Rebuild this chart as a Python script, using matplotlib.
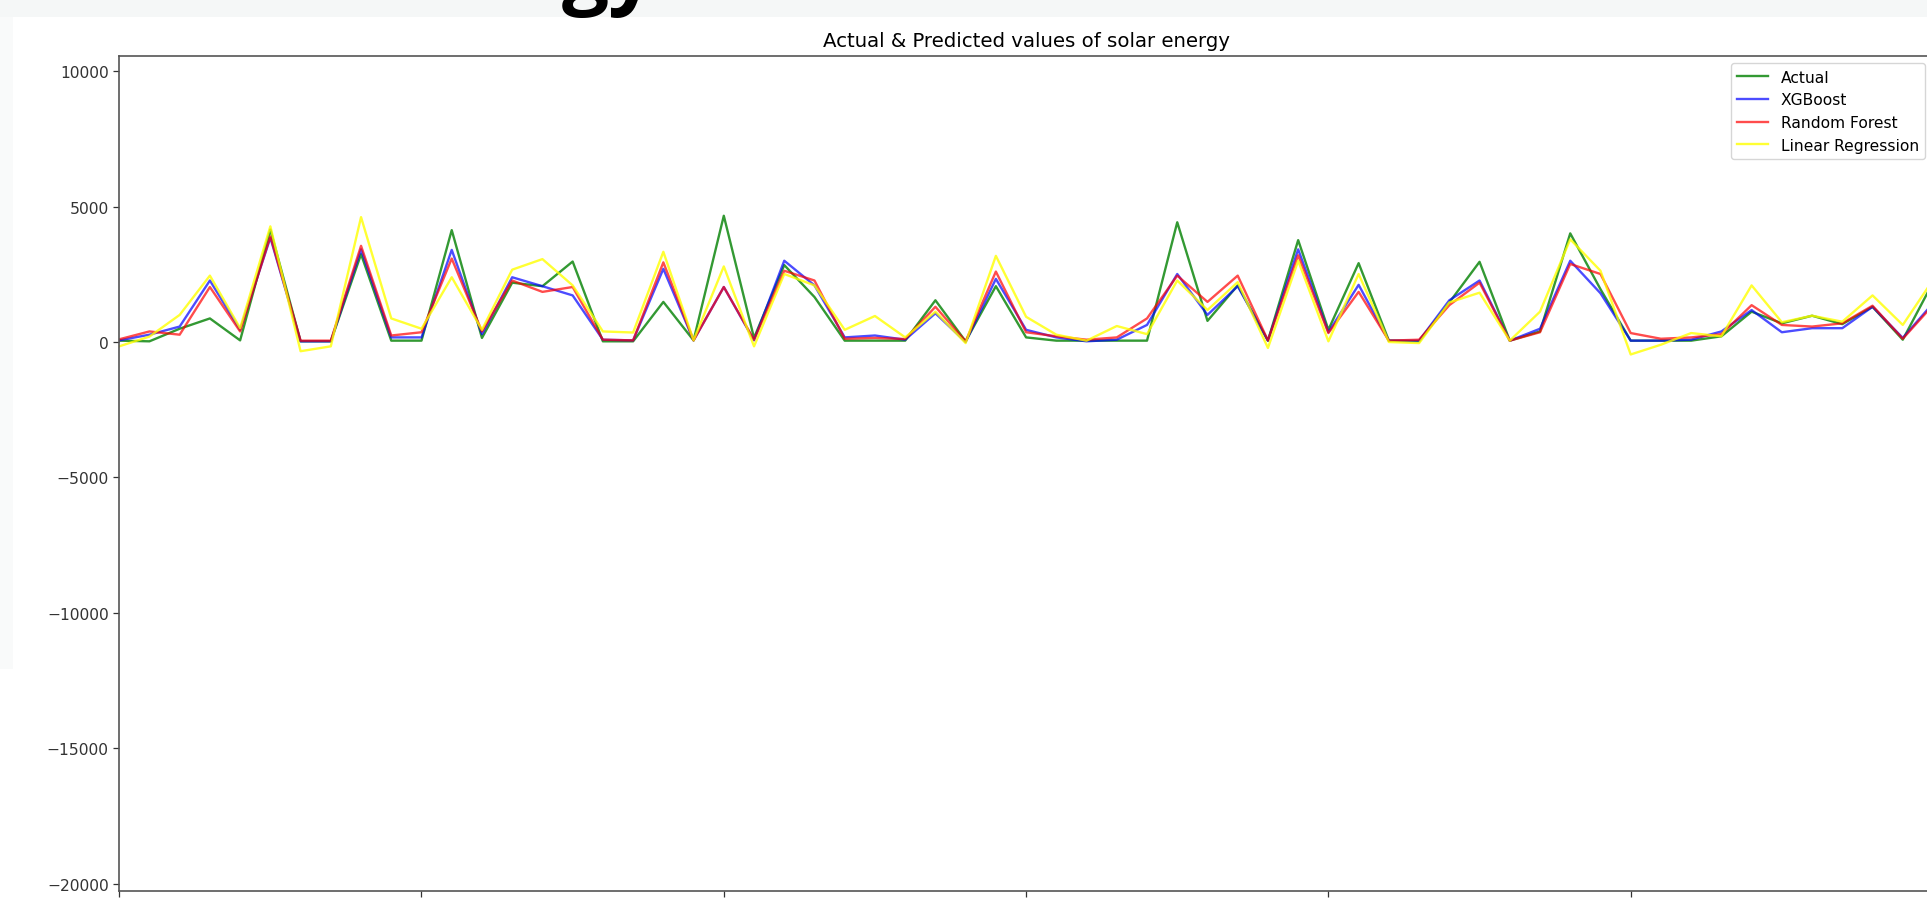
import matplotlib
matplotlib.use("Agg")
import matplotlib.pyplot as plt
from matplotlib.patches import Rectangle

# values, one per sample index 0..60
actual = [50, 25, 490, 870, 60, 4150, 25, 25, 3240, 50, 50, 4130, 150, 2190, 2060,
          2970, 25, 25, 1480, 60, 4660, 150, 2840, 1660, 50, 50, 50, 1540, 25, 2060,
          170, 50, 50, 50, 50, 4420, 780, 2090, 50, 3760, 450, 2910, 50, 25, 1460,
          2960, 50, 390, 4010, 1950, 50, 50, 50, 210, 1120, 690, 970, 660, 1300, 85, 2200]
xgboost = [60, 270, 570, 2270, 450, 3850, 25, 25, 3420, 170, 170, 3400, 290, 2390, 2060,
           1720, 85, 60, 2700, 60, 2030, 60, 3000, 2090, 170, 240, 85, 1060, 0, 2330,
           450, 170, 25, 85, 630, 2510, 1000, 2060, 50, 3420, 360, 2110, 50, 50, 1540,
           2270, 50, 490, 3000, 1800, 50, 50, 85, 390, 1180, 360, 510, 510, 1300, 150, 1430]
random_forest = [100, 390, 270, 2030, 390, 3900, 50, 50, 3550, 240, 360, 3080, 390, 2270, 1850,
                 2030, 85, 60, 2940, 60, 2030, 85, 2630, 2270, 120, 150, 110, 1300, 25, 2600,
                 360, 210, 85, 170, 870, 2450, 1480, 2450, 60, 3200, 330, 1850, 50, 85, 1360,
                 2190, 50, 360, 2880, 2510, 330, 120, 170, 290, 1360, 630, 570, 690, 1340, 120, 1360]
linear_reg = [-160, 200, 1000, 2450, 510, 4270, -340, -160, 4610, 870, 490, 2390, 450, 2670, 3060,
              2090, 390, 350, 3330, 60, 2790, -160, 2510, 2090, 450, 960, 170, 1120, -40, 3180,
              930, 270, 50, 590, 290, 2270, 1180, 2210, -220, 3000, 25, 2510, 0, -40, 1460,
              1820, 50, 1120, 3790, 2630, -460, -100, 330, 210, 2090, 730, 970, 750, 1720, 630, 2290]

y_ticks = [-20000, -15000, -10000, -5000, 0, 5000, 10000]
x_ticks = [0, 10, 20, 30, 40, 50, 60]

W, H = 1927, 904
fig = plt.figure(figsize=(W / 100, H / 100), dpi=100)

# slide background bits around the pasted chart
fig.patches.append(Rectangle((0, 1 - 18 / H), 1, 18 / H, transform=fig.transFigure,
                             facecolor="#f5f7f7", edgecolor="none", zorder=0))
fig.patches.append(Rectangle((0, 1 - 670 / H), 13 / W, 652 / H, transform=fig.transFigure,
                             facecolor="#f9fafa", edgecolor="none", zorder=0))
# descenders of the slide title, cut by the top edge
fig.text(562 / W, 1 + 2 / H, "gy", fontsize=60, family="Open Sans", fontweight="bold",
         color="black", va="baseline", ha="left")

ax = fig.add_axes([119.2 / W, (H - 892.3) / H, (1933 - 119.2) / W, (892.3 - 56.5) / H])

x = list(range(len(actual)))
lw = 1.7
ax.plot(x, actual, color="green", alpha=0.8, lw=lw, label="Actual")
ax.plot(x, xgboost, color="blue", alpha=0.7, lw=lw, label="XGBoost")
ax.plot(x, random_forest, color="red", alpha=0.7, lw=lw, label="Random Forest")
ax.plot(x, linear_reg, color="yellow", alpha=0.8, lw=lw, label="Linear Regression")

ax.set_xlim(0, 60)
ax.set_ylim(-20277, 10576)
ax.set_yticks(y_ticks)
ax.set_xticks(x_ticks)
ax.tick_params(labelsize=11.2, length=4, width=0.9, colors="#333333")
for s in ax.spines.values():
    s.set_linewidth(1.2)
    s.set_color("#555555")

ax.set_title("Actual & Predicted values of solar energy", fontsize=14.2, pad=7)
ax.legend(loc="upper right", fontsize=11.2)

fig.savefig("out.png", dpi=100)
